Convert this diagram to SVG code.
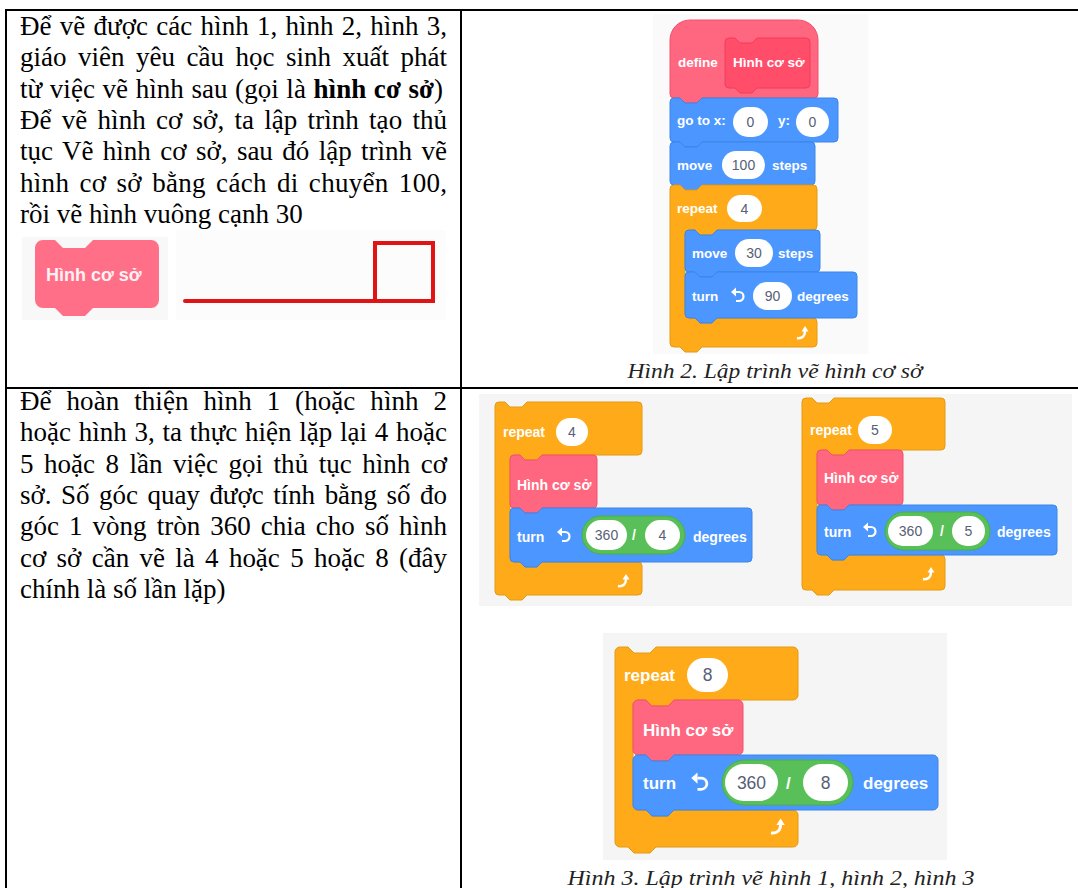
<svg xmlns="http://www.w3.org/2000/svg" xmlns:xlink="http://www.w3.org/1999/xlink" width="1078" height="888" viewBox="0 0 1078 888">
<style>
.txt{font-family:"Liberation Serif","Times New Roman",serif;font-size:27px;fill:#000}
.cap{font-family:"Liberation Serif","Times New Roman",serif;font-style:italic;font-size:20px;fill:#222;text-anchor:middle}
.bs{font-family:"Liberation Sans",Arial,sans-serif;font-size:13.5px;font-weight:bold;fill:#fff}
.bt{font-family:"Liberation Sans",Arial,sans-serif;font-size:14px;font-weight:bold;fill:#fff}
.bt8{font-family:"Liberation Sans",Arial,sans-serif;font-size:17px;font-weight:bold;fill:#fff}
.it{font-family:"Liberation Sans",Arial,sans-serif;font-size:14px;fill:#575E75;text-anchor:middle}
.it8{font-family:"Liberation Sans",Arial,sans-serif;font-size:17.5px;fill:#575E75;text-anchor:middle}
.blue{fill:#4C97FF;stroke:#3B84E8;stroke-width:1}
.orange{fill:#FFAB19;stroke:#E39A14;stroke-width:1}
.pink{fill:#FF6680;stroke:#F2506D;stroke-width:1}
.pinkd{fill:#FF4D6A;stroke:#F23D5C;stroke-width:1}
.green{fill:#59C059;stroke:#4AAE4A;stroke-width:1}
.oval{fill:#fff}
.rule{stroke:#000;stroke-width:2;fill:none}
.panel{fill:#f5f5f5}
</style>
<defs>
<g id="rot"><path d="M-2,-4 H1 A4.5,4.5 0 0 1 1,5 H-2" stroke="#fff" stroke-width="2.2" fill="none"/><path d="M-7,-4 L-2,-8.5 L-2,0.5 Z" fill="#fff"/></g>
<g id="loop"><path d="M-5,4 C0,5 3,2 3,-3" stroke="#fff" stroke-width="2.4" fill="none"/><path d="M-0.5,-2.5 L3,-8 L6.5,-2.5 Z" fill="#fff"/></g>
</defs>

<g id="table">
<line class="rule" x1="5" y1="10" x2="1078" y2="10"/>
<line class="rule" x1="6" y1="9" x2="6" y2="888"/>
<line class="rule" x1="461" y1="10" x2="461" y2="888"/>
<line class="rule" x1="6" y1="388" x2="1078" y2="388"/>
</g>

<g id="text-row1" class="txt">
<text x="20" y="35" textLength="427" lengthAdjust="spacing" word-spacing="1.3">Để vẽ được các hình 1, hình 2, hình 3,</text>
<text x="20" y="66.3" textLength="427" lengthAdjust="spacing" word-spacing="4.7">giáo viên yêu cầu học sinh xuất phát</text>
<text x="20" y="97.6" textLength="423" lengthAdjust="spacing" word-spacing="0.7">từ việc vẽ hình sau (gọi là <tspan font-weight="bold">hình cơ sở</tspan>)</text>
<text x="20" y="128.9" textLength="427" lengthAdjust="spacing" word-spacing="3.4">Để vẽ hình cơ sở, ta lập trình tạo thủ</text>
<text x="20" y="160.2" textLength="427" lengthAdjust="spacing" word-spacing="2.7">tục Vẽ hình cơ sở, sau đó lập trình vẽ</text>
<text x="20" y="191.5" textLength="427" lengthAdjust="spacing" word-spacing="3.2">hình cơ sở bằng cách di chuyển 100,</text>
<text x="20" y="222.8">rồi vẽ hình vuông cạnh 30</text>
</g>

<g id="block-hinh-co-so">
<rect x="22" y="237" width="146" height="83" fill="#f8f8f8"/>
<path d="M35,248 a8,8 0 0 1 8,-8 h12 l8,8 h22 l8,-8 H151 a8,8 0 0 1 8,8 V300 a8,8 0 0 1 -8,8 H93 l-8,8 h-22 l-8,-8 H43 a8,8 0 0 1 -8,-8 Z" fill="#FF6F88"/>
<text x="46" y="281" font-family="Liberation Sans, Arial, sans-serif" font-size="18" font-weight="bold" fill="#fff0f3">Hình cơ sở</text>
</g>

<g id="red-drawing">
<rect x="176" y="230" width="270" height="90" fill="#fcfcfc"/>
<line x1="185" y1="301" x2="433" y2="301" stroke="#E01414" stroke-width="4" stroke-linecap="round"/>
<rect x="375" y="243" width="58" height="58" fill="none" stroke="#E01414" stroke-width="4"/>
</g>

<g id="fig2">
<rect x="653" y="14" width="215" height="340" fill="#fafafa"/>
<g id="define-block">
<path class="pink" d="M670,40 a20,20 0 0 1 20,-20 h108 a20,20 0 0 1 20,20 v54 a4,4 0 0 1 -4,4 h-112 l-5,5 h-12 l-5,-5 h-6 a4,4 0 0 1 -4,-4 z"/>
<text class="bs" x="678" y="67">define</text>
<path class="pinkd" d="M725,42 a4,4 0 0 1 4,-4 h6 l5,5 h12 l5,-5 h49 a4,4 0 0 1 4,4 v42 a4,4 0 0 1 -4,4 h-49 l-5,5 h-12 l-5,-5 h-6 a4,4 0 0 1 -4,-4 z"/>
<text class="bs" x="733" y="67">Hình cơ sở</text>
</g>
<g id="goto-block">
<path class="blue" d="M670,102 a4,4 0 0 1 4,-4 h6 l5,5 h12 l5,-5 h132 a4,4 0 0 1 4,4 v36 a4,4 0 0 1 -4,4 h-132 l-5,5 h-12 l-5,-5 h-6 a4,4 0 0 1 -4,-4 z"/>
<text class="bs" x="677" y="125">go to x:</text>
<rect class="oval" x="733" y="107" width="35" height="30" rx="15"/>
<text class="it" x="750.5" y="127">0</text>
<text class="bs" x="778" y="125">y:</text>
<rect class="oval" x="796" y="107" width="33" height="30" rx="15"/>
<text class="it" x="812.5" y="127">0</text>
</g>
<g id="move100-block">
<path class="blue" d="M670,146 a4,4 0 0 1 4,-4 h6 l5,5 h12 l5,-5 h109 a4,4 0 0 1 4,4 v35 a4,4 0 0 1 -4,4 h-109 l-5,5 h-12 l-5,-5 h-6 a4,4 0 0 1 -4,-4 z"/>
<text class="bs" x="677" y="170">move</text>
<rect class="oval" x="722" y="151" width="43" height="28" rx="14"/>
<text class="it" x="743.5" y="170">100</text>
<text class="bs" x="772" y="170">steps</text>
</g>
<g id="repeat4-top">
<path class="orange" d="M670,189 a4,4 0 0 1 4,-4 h6 l5,5 h12 l5,-5 h111 a4,4 0 0 1 4,4 v37 a4,4 0 0 1 -4,4 h-96 l-5,5 h-12 l-5,-5 h-6 a4,4 0 0 0 -4,4 v80 a4,4 0 0 0 4,4 h6 l5,5 h12 l5,-5 h96 a4,4 0 0 1 4,4 v21 a4,4 0 0 1 -4,4 h-111 l-5,5 h-12 l-5,-5 h-6 a4,4 0 0 1 -4,-4 z"/>
<text class="bs" x="677" y="213">repeat</text>
<rect class="oval" x="727" y="195" width="35" height="27" rx="13.5"/>
<text class="it" x="744.5" y="213.5">4</text>
<use xlink:href="#loop" href="#loop" x="802" y="334"/>
</g>
<g id="move30-block">
<path class="blue" d="M685,234 a4,4 0 0 1 4,-4 h6 l5,5 h12 l5,-5 h99 a4,4 0 0 1 4,4 v34 a4,4 0 0 1 -4,4 h-99 l-5,5 h-12 l-5,-5 h-6 a4,4 0 0 1 -4,-4 z"/>
<text class="bs" x="692" y="258">move</text>
<rect class="oval" x="735" y="239" width="38" height="28" rx="14"/>
<text class="it" x="754" y="258">30</text>
<text class="bs" x="778" y="258">steps</text>
</g>
<g id="turn90-block">
<path class="blue" d="M685,276 a4,4 0 0 1 4,-4 h6 l5,5 h12 l5,-5 h136 a4,4 0 0 1 4,4 v38 a4,4 0 0 1 -4,4 h-136 l-5,5 h-12 l-5,-5 h-6 a4,4 0 0 1 -4,-4 z"/>
<text class="bs" x="692" y="301">turn</text>
<use xlink:href="#rot" href="#rot" x="738" y="296"/>
<rect class="oval" x="753" y="282" width="39" height="28" rx="14"/>
<text class="it" x="772.5" y="301">90</text>
<text class="bs" x="797" y="301">degrees</text>
</g>
</g>
<text id="caption2" class="cap" x="775" y="378" textLength="295" lengthAdjust="spacingAndGlyphs">Hình 2. Lập trình vẽ hình cơ sở</text>

<g id="fig3-panel">
<rect class="panel" x="479" y="394" width="593" height="212"/>
<rect class="panel" x="603" y="633" width="344" height="227"/>
</g>

<g id="repeat4">
<path class="orange" d="M495,406 a4,4 0 0 1 4,-4 h6 l5,5 h12 l5,-5 h111 a4,4 0 0 1 4,4 v45 a4,4 0 0 1 -4,4 h-96 l-5,5 h-12 l-5,-5 h-6 a4,4 0 0 0 -4,4 v99 a4,4 0 0 0 4,4 h6 l5,5 h12 l5,-5 h96 a4,4 0 0 1 4,4 v25 a4,4 0 0 1 -4,4 h-111 l-5,5 h-12 l-5,-5 h-6 a4,4 0 0 1 -4,-4 z"/>
<text class="bt" x="503" y="437">repeat</text>
<rect class="oval" x="556" y="418" width="32" height="28" rx="14"/>
<text class="it" x="572" y="437">4</text>
<use xlink:href="#loop" href="#loop" x="623" y="582"/>
<path class="pink" d="M510,459 a4,4 0 0 1 4,-4 h6 l5,5 h12 l5,-5 h51 a4,4 0 0 1 4,4 v45 a4,4 0 0 1 -4,4 h-51 l-5,5 h-12 l-5,-5 h-6 a4,4 0 0 1 -4,-4 z"/>
<text class="bt" x="517" y="490">Hình cơ sở</text>
<path class="blue" d="M510,512 a4,4 0 0 1 4,-4 h6 l5,5 h12 l5,-5 h206 a4,4 0 0 1 4,4 v46 a4,4 0 0 1 -4,4 h-206 l-5,5 h-12 l-5,-5 h-6 a4,4 0 0 1 -4,-4 z"/>
<text class="bt" x="517" y="542">turn</text>
<use xlink:href="#rot" href="#rot" x="564" y="536"/>
<rect class="green" x="582" y="516" width="103" height="38" rx="19"/>
<rect class="oval" x="586" y="520" width="41" height="30" rx="15"/>
<text class="it" x="606.5" y="540">360</text>
<text class="bt" x="632" y="540">/</text>
<rect class="oval" x="645" y="520" width="35" height="30" rx="15"/>
<text class="it" x="662.5" y="540">4</text>
<text class="bt" x="693" y="542">degrees</text>
</g>

<g id="repeat5">
<path class="orange" d="M802,402 a4,4 0 0 1 4,-4 h6 l5,5 h12 l5,-5 h107 a4,4 0 0 1 4,4 v44 a4,4 0 0 1 -4,4 h-92 l-5,5 h-12 l-5,-5 h-6 a4,4 0 0 0 -4,4 v97 a4,4 0 0 0 4,4 h6 l5,5 h12 l5,-5 h92 a4,4 0 0 1 4,4 v27 a4,4 0 0 1 -4,4 h-107 l-5,5 h-12 l-5,-5 h-6 a4,4 0 0 1 -4,-4 z"/>
<text class="bt" x="810" y="435">repeat</text>
<rect class="oval" x="858" y="416" width="34" height="28" rx="14"/>
<text class="it" x="875" y="435">5</text>
<use xlink:href="#loop" href="#loop" x="928" y="575"/>
<path class="pink" d="M817,454 a4,4 0 0 1 4,-4 h6 l5,5 h12 l5,-5 h50 a4,4 0 0 1 4,4 v47 a4,4 0 0 1 -4,4 h-50 l-5,5 h-12 l-5,-5 h-6 a4,4 0 0 1 -4,-4 z"/>
<text class="bt" x="824" y="483">Hình cơ sở</text>
<path class="blue" d="M817,509 a4,4 0 0 1 4,-4 h6 l5,5 h12 l5,-5 h204 a4,4 0 0 1 4,4 v42 a4,4 0 0 1 -4,4 h-204 l-5,5 h-12 l-5,-5 h-6 a4,4 0 0 1 -4,-4 z"/>
<text class="bt" x="824" y="537">turn</text>
<use xlink:href="#rot" href="#rot" x="870" y="531"/>
<rect class="green" x="885" y="512" width="105" height="38" rx="19"/>
<rect class="oval" x="888" y="516" width="45" height="30" rx="15"/>
<text class="it" x="910.5" y="536">360</text>
<text class="bt" x="940" y="536">/</text>
<rect class="oval" x="952" y="516" width="33" height="30" rx="15"/>
<text class="it" x="968.5" y="536">5</text>
<text class="bt" x="997" y="537">degrees</text>
</g>

<g id="repeat8">
<path class="orange" d="M615,652 a5,5 0 0 1 5,-5 h8 l6,6 h16 l6,-6 h137 a5,5 0 0 1 5,5 v43 a5,5 0 0 1 -5,5 h-119 l-6,6 h-16 l-6,-6 h-8 a5,5 0 0 0 -5,5 v100 a5,5 0 0 0 5,5 h8 l6,6 h16 l6,-6 h119 a5,5 0 0 1 5,5 v27 a5,5 0 0 1 -5,5 h-137 l-6,6 h-16 l-6,-6 h-8 a5,5 0 0 1 -5,-5 z"/>
<text class="bt8" x="624" y="681">repeat</text>
<rect class="oval" x="687" y="658" width="41" height="34" rx="17"/>
<text class="it8" x="707.5" y="681">8</text>
<use xlink:href="#loop" href="#loop" transform="translate(777,828) scale(1.2)"/>
<path class="pink" d="M633,705 a5,5 0 0 1 5,-5 h8 l6,6 h16 l6,-6 h64 a5,5 0 0 1 5,5 v45 a5,5 0 0 1 -5,5 h-64 l-6,6 h-16 l-6,-6 h-8 a5,5 0 0 1 -5,-5 z"/>
<text class="bt8" x="643" y="736">Hình cơ sở</text>
<path class="blue" d="M633,760 a5,5 0 0 1 5,-5 h8 l6,6 h16 l6,-6 h259 a5,5 0 0 1 5,5 v45 a5,5 0 0 1 -5,5 h-259 l-6,6 h-16 l-6,-6 h-8 a5,5 0 0 1 -5,-5 z"/>
<text class="bt8" x="643" y="789">turn</text>
<use xlink:href="#rot" href="#rot" transform="translate(700,783) scale(1.25)"/>
<rect class="green" x="722" y="760" width="131" height="45" rx="22.5"/>
<rect class="oval" x="725" y="764" width="53" height="37" rx="18.5"/>
<text class="it8" x="751.5" y="789">360</text>
<text class="bt8" x="786" y="789">/</text>
<rect class="oval" x="803" y="764" width="45" height="37" rx="18.5"/>
<text class="it8" x="825.5" y="789">8</text>
<text class="bt8" x="863" y="789">degrees</text>
</g>
<text id="caption3" class="cap" x="771" y="885" textLength="407" lengthAdjust="spacingAndGlyphs">Hình 3. Lập trình vẽ  hình 1, hình 2, hình 3</text>

<g id="text-row2" class="txt">
<text x="20" y="410" textLength="427" lengthAdjust="spacing" word-spacing="8.1">Để hoàn thiện hình 1 (hoặc hình 2</text>
<text x="20" y="441.3" textLength="427" lengthAdjust="spacing" word-spacing="1">hoặc hình 3, ta thực hiện lặp lại 4 hoặc</text>
<text x="20" y="472.6" textLength="427" lengthAdjust="spacing" word-spacing="3.7">5 hoặc 8 lần việc gọi thủ tục hình cơ</text>
<text x="20" y="503.9" textLength="427" lengthAdjust="spacing" word-spacing="2.9">sở. Số góc quay được tính bằng số đo</text>
<text x="20" y="535.2" textLength="427" lengthAdjust="spacing" word-spacing="3.3">góc 1 vòng tròn 360 chia cho số hình</text>
<text x="20" y="566.5" textLength="427" lengthAdjust="spacing" word-spacing="3.6">cơ sở cần vẽ là 4 hoặc 5 hoặc 8 (đây</text>
<text x="20" y="597.8">chính là số lần lặp)</text>
</g>
<g id="connectors"/>
</svg>
